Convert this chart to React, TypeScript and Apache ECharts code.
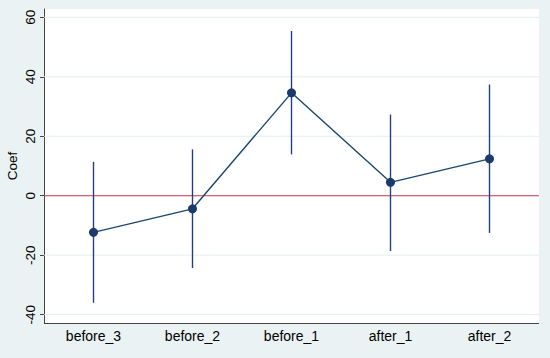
import React, { useEffect, useRef } from "react";
import * as echarts from "echarts";

const categories = ["before_3", "before_2", "before_1", "after_1", "after_2"];
const coef = [-12.3, -4.4, 34.6, 4.5, 12.4];
const ciLow = [-36, -24.3, 13.9, -18.6, -12.5];
const ciHigh = [11.4, 15.6, 55.4, 27.3, 37.4];
const yTicks = [-40, -20, 0, 20, 40, 60];
const refLine = [0];

export default function App() {
  const ref = useRef<HTMLDivElement>(null);
  useEffect(() => {
    document.body.style.margin = "0";
    const chart = echarts.init(ref.current!, null, { renderer: "svg" });
    const font = "Arial, 'Liberation Sans', sans-serif";
    const hLine = (color: string, width: number) => (params: any, api: any) => {
      const cs = params.coordSys;
      const y = api.coord([0, api.value(0)])[1];
      return {
        type: "line",
        shape: { x1: cs.x, y1: y, x2: cs.x + cs.width, y2: y },
        style: { stroke: color, lineWidth: width },
      };
    };
    chart.setOption({
      animation: false,
      backgroundColor: "#eaf2f3",
      grid: {
        left: 44, right: 11, top: 9, bottom: 35,
        outerBoundsMode: "none", containLabel: false,
        show: true, backgroundColor: "#ffffff", borderWidth: 0,
      },
      xAxis: {
        type: "category",
        data: categories,
        boundaryGap: true,
        axisLine: { show: false },
        axisTick: { alignWithLabel: true, length: 4, lineStyle: { color: "#444" } },
        axisLabel: { color: "#000", fontSize: 14, fontFamily: font, margin: 6 },
        splitLine: { show: false },
      },
      yAxis: {
        type: "value",
        min: -42.8,
        max: 62.8,
        name: "Coef",
        nameLocation: "middle",
        nameRotate: 90,
        nameGap: 25,
        nameMoveOverlap: false,
        nameTextStyle: { color: "#000", fontSize: 13.5, fontFamily: font },
        axisLine: { show: true, onZero: false, lineStyle: { color: "#444", width: 1 } },
        axisTick: { show: true, length: 4, lineStyle: { color: "#444" }, customValues: yTicks },
        axisLabel: { color: "#000", fontSize: 13.5, fontFamily: font, rotate: 90, margin: 7, customValues: yTicks },
        splitLine: { show: false },
      },
      series: [
        {
          type: "custom",
          renderItem: hLine("#e4eef0", 1),
          data: yTicks.filter((v) => v !== 0).map((v) => [v]),
          z: 1,
          silent: true,
        },
        {
          type: "custom",
          renderItem: hLine("#c0364e", 1.2),
          data: refLine.map((v) => [v]),
          z: 2,
          silent: true,
        },
        {
          type: "custom",
          renderItem: (params: any) => {
            const cs = params.coordSys;
            const y = cs.y + cs.height + 0.5;
            return {
              type: "line",
              shape: { x1: cs.x, y1: y, x2: cs.x + cs.width, y2: y },
              style: { stroke: "#444", lineWidth: 1 },
            };
          },
          data: [[0]],
          z: 5,
          silent: true,
        },
        {
          type: "custom",
          renderItem: (params: any, api: any) => {
            const i = api.value(0);
            const p1 = api.coord([i, api.value(1)]);
            const p2 = api.coord([i, api.value(2)]);
            return {
              type: "line",
              shape: { x1: p1[0], y1: p1[1], x2: p2[0], y2: p2[1] },
              style: { stroke: "#24407c", lineWidth: 1.4 },
            };
          },
          data: categories.map((_, i) => [i, ciLow[i], ciHigh[i]]),
          z: 3,
        },
        {
          type: "line",
          data: coef,
          symbol: "circle",
          symbolSize: 9,
          lineStyle: { color: "#1a476f", width: 1.4 },
          itemStyle: { color: "#1a3a6e" },
          z: 4,
        },
      ],
    });
    return () => chart.dispose();
  }, []);
  return <div ref={ref} style={{ position: "absolute", left: 0, top: 0, width: 550, height: 358 }} />;
}
